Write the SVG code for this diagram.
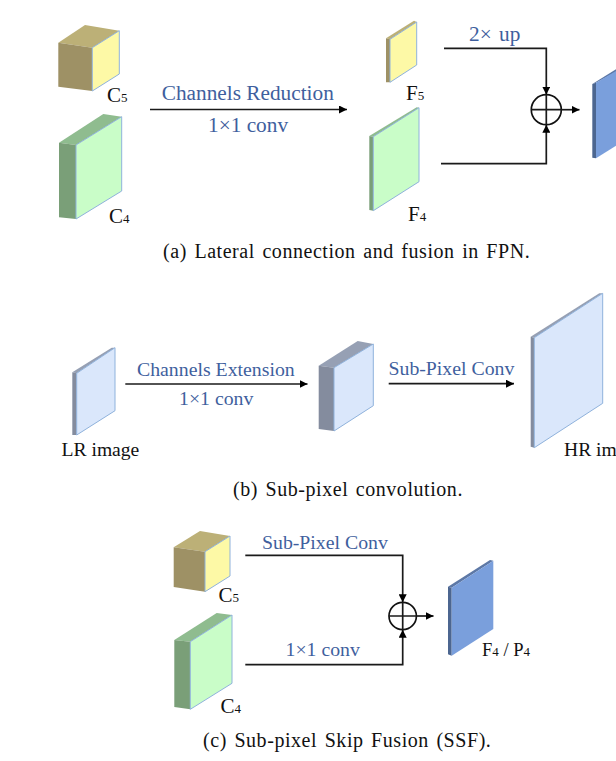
<svg xmlns="http://www.w3.org/2000/svg" width="616" height="761" viewBox="0 0 616 761">
<style>
text{font-family:"Liberation Serif","Times New Roman",serif}
.op{fill:#3f5f9e;font-size:21.3px}
.sm{font-size:19.8px}
.lb{fill:#111;font-size:21px}
.lb tspan{font-size:13px}
.nm{font-size:19.6px}
.cap{fill:#111;font-size:20px;letter-spacing:.55px;word-spacing:2px}
.wire{fill:none;stroke:#1a1a1a;stroke-width:1.7}
.edge{stroke:#8fb2dc;stroke-width:1;stroke-linejoin:round}
.yt{fill:#bcb077}.ys{fill:#9e9165}.yf{fill:#fdf9a6}
.gt{fill:#8fbc8f}.gs{fill:#7a9f78}.gf{fill:#c9fdc8}
.bt{fill:#96a0b4}.bs{fill:#848c9e}.bf{fill:#dae7fb}
.dt{fill:#5d78a6}.ds{fill:#4c6690}.df{fill:#7a9fdc}
</style>
<defs>
<marker id="tip" markerUnits="userSpaceOnUse" markerWidth="9" markerHeight="8" refX="8" refY="4" orient="auto"><path d="M0 0L8 4L0 8Z" fill="#000"/></marker>
</defs>

<g id="c5-a">
<polygon class="yt" points="58.3,42.7 85,25 119.3,30.7 92.3,47.7"/>
<polygon class="ys" points="58.3,42.7 92.3,47.7 92.3,91 58.3,86.7"/>
<polygon class="yf edge" points="92.3,47.7 119.3,30.7 119.3,74 92.3,91"/>
<text class="lb" x="107" y="102">C<tspan>5</tspan></text>
</g>
<g id="c4-a">
<polygon class="gt" points="59,142.7 103.3,114 121.7,116.7 76,145"/>
<polygon class="gs" points="59,142.7 76,145 76,219 59,217.3"/>
<polygon class="gf edge" points="76,145 121.7,116.7 121.7,191 76,219"/>
<text class="lb" x="109" y="223">C<tspan>4</tspan></text>
</g>
<g id="f5-a">
<polygon class="yt" points="386,38.3 414,20.7 416.7,22 390,39.3"/>
<polygon class="ys" points="386,38.3 390,39.3 390,82.3 386,82.3"/>
<polygon class="yf edge" points="390,39.3 416.7,22 416.7,65 390,82.3"/>
<text class="lb" x="406" y="100">F<tspan>5</tspan></text>
</g>
<g id="f4-a">
<polygon class="gt" points="369.3,136 416.7,107.3 419,107.7 373.3,136.7"/>
<polygon class="gs" points="369.3,136 373.3,136.7 373.3,210.7 369.3,210"/>
<polygon class="gf edge" points="373.3,136.7 419,107.7 419,181.7 373.3,210.7"/>
<text class="lb" x="408" y="221">F<tspan>4</tspan></text>
</g>
<g id="out-a">
<polygon class="dt" points="592.3,84 616,69.3 616,72 596,82.7"/>
<polygon class="ds" points="592.3,84 596,82.7 596,158.3 592.3,157.7"/>
<polygon class="df" points="596,82.7 616,71 616,145.7 596,158.3"/>
</g>
<g id="sum-a">
<circle cx="546.3" cy="109.7" r="15" fill="#fff" stroke="#111" stroke-width="1.7"/>
<path class="wire" d="M531.3 109.7H561.3M546.3 94.7V124.7"/>
</g>

<g id="lr">
<polygon class="bt" points="72.3,372.3 111.7,347.7 115,347.7 76.7,373.3"/>
<polygon class="bs" points="72.3,372.3 76.7,373.3 76.7,435 72.3,435"/>
<polygon class="bf edge" points="76.7,373.3 115,347.7 115,410.7 76.7,435"/>
<text class="lb nm" x="61.5" y="456">LR image</text>
</g>
<g id="mid">
<polygon class="bt" points="318.7,365.7 357.7,341 373.3,344 334,367.7"/>
<polygon class="bs" points="318.7,365.7 334,367.7 334,431 318.7,429"/>
<polygon class="bf edge" points="334,367.7 373.3,344 373.3,405.7 334,431"/>
</g>
<g id="hr">
<polygon class="bt" points="530.7,336.7 599.3,293.3 602.7,293.3 534.3,337.7"/>
<polygon class="bs" points="530.7,336.7 534.3,337.7 534.3,447.7 530.7,446.7"/>
<polygon class="bf edge" points="534.3,337.7 602.7,293.3 602.7,403.3 534.3,447.7"/>
<text class="lb nm" x="564" y="456">HR im</text>
</g>

<g id="c5-c">
<polygon class="yt" points="173.7,547.3 200,531 230,536 205,551.7"/>
<polygon class="ys" points="173.7,547.3 205,551.7 205,591.7 173.7,587"/>
<polygon class="yf edge" points="205,551.7 230,536 230,576 205,591.7"/>
<text class="lb" x="218.5" y="602">C<tspan>5</tspan></text>
</g>
<g id="c4-c">
<polygon class="gt" points="174.3,640 216.7,613 232,615 190.3,641.7"/>
<polygon class="gs" points="174.3,640 190.3,641.7 190.3,709.3 174.3,707"/>
<polygon class="gf edge" points="190.3,641.7 232,615 232,683.3 190.3,709.3"/>
<text class="lb" x="220.5" y="713">C<tspan>4</tspan></text>
</g>
<g id="out-c">
<polygon class="dt" points="448,586.7 490,560 493.3,560.7 451.7,587.7"/>
<polygon class="ds" points="448,586.7 451.7,587.7 451.7,655.7 448,654.3"/>
<polygon class="df" points="451.7,587.7 493.3,560.7 493.3,629 451.7,655.7"/>
<text class="lb" x="482" y="656" style="font-size:18.5px">F<tspan>4</tspan> / P<tspan>4</tspan></text>
</g>
<g id="sum-c">
<circle cx="402.7" cy="616" r="13.7" fill="#fff" stroke="#111" stroke-width="1.7"/>
<path class="wire" d="M389 616H416.4M402.7 602.3V629.7"/>
</g>

<g id="connectors">
<path class="wire" d="M150 109.5H347" marker-end="url(#tip)"/>
<path class="wire" d="M444 48.3H546.3V94.7" marker-end="url(#tip)"/>
<path class="wire" d="M441 163.7H546.3V124.7" marker-end="url(#tip)"/>
<path class="wire" d="M561.3 109.7H579.5" marker-end="url(#tip)"/>
<path class="wire" d="M125.3 384H307.5" marker-end="url(#tip)"/>
<path class="wire" d="M388.7 383.7H514" marker-end="url(#tip)"/>
<path class="wire" d="M245.3 555.3H402.7V602.3" marker-end="url(#tip)"/>
<path class="wire" d="M245.3 664.7H402.7V629.7" marker-end="url(#tip)"/>
<path class="wire" d="M416.4 616H433.5" marker-end="url(#tip)"/>
</g>

<g id="labels">
<text class="op" x="161.7" y="100">Channels Reduction</text>
<text class="op" x="208" y="132">1×1 conv</text>
<text class="op" x="469" y="41" style="word-spacing:2px">2× up</text>
<text class="op sm" x="137" y="376">Channels Extension</text>
<text class="op sm" x="179" y="405">1×1 conv</text>
<text class="op sm" x="388.5" y="375">Sub-Pixel Conv</text>
<text class="op sm" x="262" y="549">Sub-Pixel Conv</text>
<text class="op sm" x="285.5" y="656">1×1 conv</text>
<text class="cap" x="163" y="258">(a) Lateral connection and fusion in FPN.</text>
<text class="cap" x="233" y="496">(b) Sub-pixel convolution.</text>
<text class="cap" x="203" y="747">(c) Sub-pixel Skip Fusion (SSF).</text>
</g>
</svg>
